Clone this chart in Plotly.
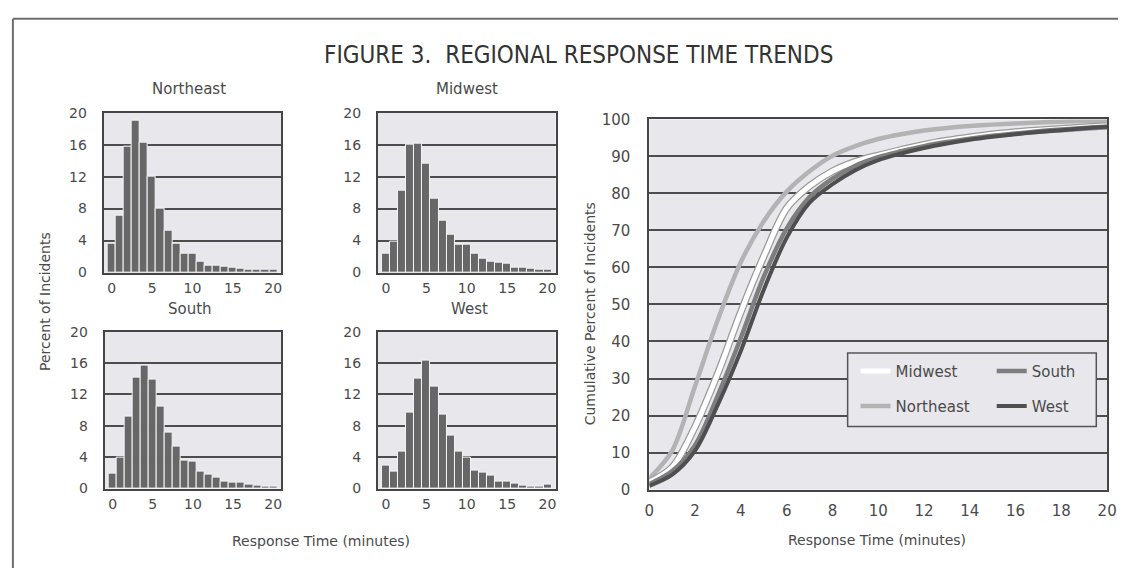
import plotly.graph_objects as go

# ---------------- data ----------------
minutes = list(range(21))

hist_northeast = [3.6, 7.1, 15.7, 19.0, 16.2, 12.0, 8.0, 5.2, 3.6, 2.3, 2.3,
                  1.4, 0.9, 0.8, 0.7, 0.6, 0.5, 0.4, 0.3, 0.4, 0.3]
hist_midwest = [2.4, 3.8, 10.3, 16.0, 16.1, 13.6, 9.2, 6.5, 4.7, 3.5, 3.5,
                2.3, 1.7, 1.3, 1.2, 1.1, 0.6, 0.6, 0.5, 0.4, 0.3]
hist_south = [1.9, 3.9, 9.2, 14.2, 15.7, 13.9, 10.4, 7.1, 5.4, 3.6, 3.4,
              2.1, 1.8, 1.4, 0.9, 0.8, 0.7, 0.5, 0.4, 0.3, 0.2]
hist_west = [2.9, 2.1, 4.7, 9.7, 14.0, 16.3, 13.0, 9.4, 6.7, 4.7, 3.9,
             2.3, 2.0, 1.6, 0.9, 0.9, 0.6, 0.4, 0.3, 0.2, 0.5]

cum_northeast = [3, 10.5, 28, 46, 61.5, 72.5, 80.5, 86, 90.2, 92.8, 94.7, 96,
                 97, 97.7, 98.2, 98.6, 98.9, 99.2, 99.4, 99.6, 99.7]
cum_midwest = [2, 6, 17, 31.5, 48, 63, 76, 82, 86, 88.6, 90.3, 91.8, 93.2,
               94.3, 95.2, 96, 96.6, 97.1, 97.5, 97.9, 98.2]
cum_south = [1.5, 5, 12, 25.5, 41, 57.5, 70.5, 79, 84, 87.5, 89.8, 91.4, 92.8,
             93.9, 94.8, 95.6, 96.2, 96.8, 97.3, 97.7, 98]
cum_west = [1, 4, 10.5, 23, 37.5, 54, 68, 77.5, 82.5, 86.3, 89, 90.8, 92.3,
            93.5, 94.5, 95.3, 96, 96.6, 97.1, 97.6, 98]

hist_titles = ["Northeast", "Midwest", "South", "West"]
hist_ticks_x = [0, 5, 10, 15, 20]
hist_ticks_y = [0, 4, 8, 12, 16, 20]
cum_ticks_x = list(range(0, 21, 2))
cum_ticks_y = list(range(0, 101, 10))

# ---------------- styling ----------------
W, H = 1128, 577
FONT = "DejaVu Sans"
TXT = "#4a4a4a"
BG = "#e8e8ec"
GRID = "#4d4d4d"
BAR = "#676767"


def px_x(v):
    return v / W


def px_y(v):
    return 1 - v / H


fig = go.Figure()

hist_data = [hist_northeast, hist_midwest, hist_south, hist_west]
# pixel boxes (left, right, top, bottom)
boxes = [(100, 280, 107, 272), (378, 558, 107, 272),
         (101, 280, 333, 495), (378, 558, 333, 495)]

for i, (vals, box) in enumerate(zip(hist_data, boxes)):
    n = i + 1
    xa = "x" if n == 1 else f"x{n}"
    ya = "y" if n == 1 else f"y{n}"
    fig.add_trace(go.Bar(x=minutes, y=vals, xaxis=xa, yaxis=ya,
                         marker=dict(color=BAR, line=dict(color="#f4f4f4", width=1)),
                         width=1.0, showlegend=False, hoverinfo="skip"))
    l, r, t, b = box
    axis_common = dict(showline=True, linecolor="#454545", linewidth=2, mirror=True,
                       tickfont=dict(family=FONT, size=14, color=TXT), zeroline=False,
                       ticks="")
    fig.update_layout(**{
        ("xaxis" if n == 1 else f"xaxis{n}"): dict(
            domain=[px_x(l), px_x(r)], anchor=ya, range=[-1, 21],
            tickvals=hist_ticks_x, showgrid=False, ticklabelstandoff=2, **axis_common),
        ("yaxis" if n == 1 else f"yaxis{n}"): dict(
            domain=[px_y(b), px_y(t)], anchor=xa, range=[0, 20],
            tickvals=hist_ticks_y, showgrid=True, gridcolor=GRID, gridwidth=2,
            ticklabelstandoff=12, **axis_common),
    })

# cumulative chart on axis 5
SM = 0.9
fig.add_trace(go.Scatter(x=minutes, y=cum_northeast, xaxis="x5", yaxis="y5",
                         mode="lines", line=dict(color="#b3b3b3", width=4.5, shape="spline", smoothing=SM),
                         name="Northeast", legend="legend2", hoverinfo="skip"))
fig.add_trace(go.Scatter(x=minutes, y=cum_midwest, xaxis="x5", yaxis="y5",
                         mode="lines", line=dict(color="#9a9a9a", width=7.5, shape="spline", smoothing=SM),
                         showlegend=False, hoverinfo="skip"))
fig.add_trace(go.Scatter(x=minutes, y=cum_midwest, xaxis="x5", yaxis="y5",
                         mode="lines", line=dict(color="#ffffff", width=5, shape="spline", smoothing=SM),
                         name="Midwest", legend="legend", hoverinfo="skip"))
fig.add_trace(go.Scatter(x=minutes, y=cum_south, xaxis="x5", yaxis="y5",
                         mode="lines", line=dict(color="#7e7e7e", width=4.5, shape="spline", smoothing=SM),
                         name="South", legend="legend3", hoverinfo="skip"))
fig.add_trace(go.Scatter(x=minutes, y=cum_west, xaxis="x5", yaxis="y5",
                         mode="lines", line=dict(color="#4f4f4f", width=4, shape="spline", smoothing=SM),
                         name="West", legend="legend4", hoverinfo="skip"))

fig.update_layout(
    xaxis5=dict(domain=[px_x(653), px_x(1117)], anchor="y5", range=[0, 20],
                tickvals=cum_ticks_x, showgrid=False, showline=True, linecolor="#454545",
                linewidth=2, mirror=True, zeroline=False, ticklabelstandoff=6,
                tickfont=dict(family=FONT, size=15, color=TXT)),
    yaxis5=dict(domain=[px_y(496), px_y(114)], anchor="x5", range=[0, 100],
                tickvals=cum_ticks_y, showgrid=True, gridcolor=GRID, gridwidth=2,
                showline=True, linecolor="#454545", linewidth=2, mirror=True,
                zeroline=False, ticklabelstandoff=14,
                tickfont=dict(family=FONT, size=15, color=TXT)),
)

leg_common = dict(bgcolor="rgba(0,0,0,0)", borderwidth=0, xanchor="left",
                  yanchor="middle", font=dict(family=FONT, size=15, color=TXT),
                  itemwidth=30)
fig.update_layout(
    legend=dict(x=px_x(862), y=px_y(374), **leg_common),
    legend2=dict(x=px_x(862), y=px_y(410), **leg_common),
    legend3=dict(x=px_x(1000), y=px_y(374), **leg_common),
    legend4=dict(x=px_x(1000), y=px_y(410), **leg_common),
)

shapes = [
    # legend box
    dict(type="rect", xref="paper", yref="paper", x0=px_x(854), x1=px_x(1106),
         y0=px_y(431), y1=px_y(355), fillcolor=BG, line=dict(color="#555555", width=1.5),
         layer="above"),
    # outer frame lines
    dict(type="line", xref="paper", yref="paper", x0=px_x(8), x1=1, y0=px_y(10), y1=px_y(10),
         line=dict(color="#6e6e6e", width=2)),
    dict(type="line", xref="paper", yref="paper", x0=px_x(8), x1=px_x(8), y0=px_y(10), y1=0,
         line=dict(color="#6e6e6e", width=2)),
]

annotations = [
    dict(text="FIGURE 3.  REGIONAL RESPONSE TIME TRENDS", x=px_x(581), y=px_y(47),
         font=dict(family="DejaVu Sans Condensed, Liberation Sans Narrow, DejaVu Sans",
                   size=24, color="#333333")),
    dict(text="Percent of Incidents", x=px_x(40), y=px_y(302), textangle=-90,
         font=dict(family=FONT, size=14, color=TXT)),
    dict(text="Response Time (minutes)", x=px_x(320), y=px_y(549),
         font=dict(family=FONT, size=14, color=TXT)),
    dict(text="Cumulative Percent of Incidents", x=px_x(593), y=px_y(315), textangle=-90,
         font=dict(family=FONT, size=14, color=TXT)),
    dict(text="Response Time (minutes)", x=px_x(884), y=px_y(548),
         font=dict(family=FONT, size=14, color=TXT)),
]
title_pos = [(186, 83), (468, 83), (187, 310), (471, 310)]
for t, (x, y) in zip(hist_titles, title_pos):
    annotations.append(dict(text=t, x=px_x(x), y=px_y(y),
                            font=dict(family=FONT, size=15, color=TXT)))
for a in annotations:
    a.update(xref="paper", yref="paper", showarrow=False, xanchor="center", yanchor="middle")

fig.update_layout(
    width=W, height=H, margin=dict(l=0, r=0, t=0, b=0),
    paper_bgcolor="white", plot_bgcolor=BG, bargap=0,
    shapes=shapes, annotations=annotations,
)

fig.write_html("out.html")
